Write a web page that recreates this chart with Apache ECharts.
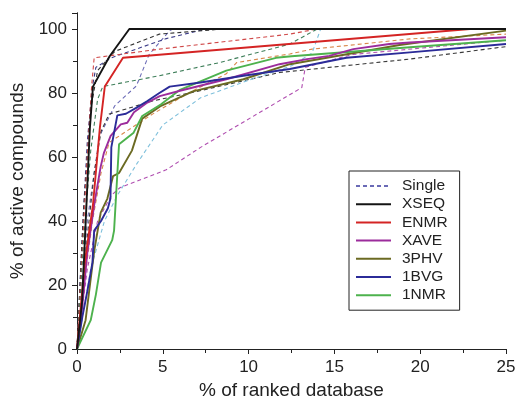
<!DOCTYPE html>
<html>
<head>
<meta charset="utf-8">
<script src="https://cdn.jsdelivr.net/npm/echarts@6/dist/echarts.min.js"></script>
<style>html,body{margin:0;padding:0;background:#fff}#c{width:517px;height:402px}</style>
</head>
<body>
<div id="c"></div>
<script>
// x ticks and y ticks
var xTicks = [0, 5, 10, 15, 20, 25];
var yTicks = [0, 20, 40, 60, 80, 100];
var legendNames = ['Single', 'XSEQ', 'ENMR', 'XAVE', '3PHV', '1BVG', '1NMR'];

// Solid lines: [% of ranked database, % of active compounds]
var XSEQ = [[0,0],[0.3,15],[0.55,45],[0.75,69],[0.93,82],[1.9,91.5],[3.05,100],[25,100]];
var ENMR = [[0,0],[0.45,27],[0.93,45],[1.33,69],[1.62,82],[2.68,91],[22.9,100],[25,100]];
var XAVE = [[0,0],[0.3,13],[0.6,30],[1.0,45],[1.38,57],[1.57,61.3],[1.96,66.6],[2.55,70.2],[2.93,70.7],[3.32,74],[4.1,77],[4.82,79],[6,80.7],[8.7,84.3],[11.8,89],[13.4,90.6],[14.7,91.6],[16.1,93.7],[18.2,95.3],[19.4,95.8],[25,97.4]];
var PHV3 = [[0,0],[0.5,9],[0.8,22],[1.0,30.5],[1.38,42.6],[1.77,47],[2.1,54],[2.45,55],[3.2,62],[3.8,72],[4.9,76],[6.75,80.5],[9.7,84.3],[12.4,89],[18.8,95],[25,99.5]];
var BVG1 = [[0,0],[0.31,10],[0.6,18],[0.9,27],[1.0,37],[1.4,40],[1.8,44],[1.95,47],[2.0,63],[2.35,73],[2.85,73.5],[3.5,75.5],[4.1,77.5],[4.8,80],[5.4,82],[7.2,83.3],[9.7,85.4],[12.4,87.5],[15.7,91],[19.4,92.7],[25,95.3]];
var NMR1 = [[0,0],[0.8,9],[1.1,17],[1.4,27],[2.05,34],[2.16,37],[2.45,64],[3.3,67.6],[3.8,72.8],[4.9,76.5],[6,81],[8.7,87],[11.6,91],[12.5,91.5],[19.4,94.3],[25,96.5]];

// Dashed "Single" lines
var single1 = [[0,0],[0.3,20],[0.6,40],[1.0,55],[1.32,66.6],[2.2,76],[3.46,82.2],[4.2,92],[5.4,99.5],[5.6,100],[25,100]];
var single2 = [[0,0],[0.3,35],[0.6,65],[0.9,82],[1.1,88],[2,91],[5.2,97],[7.5,100],[25,100]];
var single3 = [[0,0],[0.4,45],[0.8,75],[1.2,87],[2.2,93],[4.8,98.4],[8.5,100],[25,100]];
var single4 = [[0,0],[0.3,15],[0.6,35],[1.0,55],[1.4,68],[1.87,73.4],[4.4,77.5],[7,80.5],[11.8,86.4],[19.4,90.6],[25,94.5]];
var single5 = [[0,0],[0.3,30],[0.6,60],[0.85,82],[1.0,91],[4.8,93.7],[12.4,98.4],[14,100],[25,100]];
var single6 = [[0,0],[0.4,20],[0.9,40],[1.4,55],[1.87,64.5],[4.4,73.4],[6.5,80],[8.7,86],[9.3,89.5],[12.4,92.2],[13.7,93.7],[19.4,96.9],[25,98.4]];
var single7 = [[0,0],[0.4,35],[0.8,62],[1.2,78],[1.5,82],[4.8,85.4],[8.3,89.5],[12.4,95.3],[14,100],[25,100]];
var single8 = [[0,0],[0.8,25],[1.6,40],[2.35,48],[3.5,58],[5,70],[7.2,78.5],[10,84],[12.5,88.5],[13.7,92.5],[14.2,100],[25,100]];
var single9 = [[0,0],[0.6,25],[1.2,40],[2.0,48],[2.5,50.4],[5.2,56],[7.2,63],[13.1,81.7],[13.3,88],[16,92],[25,96.5]];

var chart = echarts.init(document.getElementById('c'), null, {renderer: 'canvas'});
var FONT = 'Liberation Sans, Arial, Helvetica, sans-serif';
var TXT = '#222';

function dashed(name, data, color) {
  return {name: name, type: 'line', data: data, symbol: 'none', z: 2,
    lineStyle: {type: [4, 3], width: 1.1, color: color}, itemStyle: {color: color}, silent: true};
}
function solid(name, data, color) {
  return {name: name, type: 'line', data: data, symbol: 'none', z: 3,
    lineStyle: {width: 1.9, color: color}, itemStyle: {color: color}, silent: true};
}

var series = [
  dashed('Single', single1, '#6a6ab6'),
  dashed('s2', single2, '#3b3b88'),
  dashed('s3', single3, '#333333'),
  dashed('s4', single4, '#3a3a3a'),
  dashed('s5', single5, '#d04848'),
  dashed('s6', single6, '#d9874a'),
  dashed('s7', single7, '#3f7f5a'),
  dashed('s8', single8, '#7fc0dc'),
  dashed('s9', single9, '#b04eb0'),
  solid('3PHV', PHV3, '#6b6a22'),
  solid('1NMR', NMR1, '#4db24d'),
  solid('XAVE', XAVE, '#9c2c9c'),
  solid('1BVG', BVG1, '#2b2b98'),
  solid('ENMR', ENMR, '#d42424'),
  solid('XSEQ', XSEQ, '#141414')
];

chart.setOption({
  animation: false,
  backgroundColor: '#fff',
  grid: {left: 77, right: 11, top: 13, bottom: 53, containLabel: false, outerBoundsMode: 'none'},
  legend: {
    data: legendNames, orient: 'vertical', left: 349, top: 171,
    itemWidth: 35, itemHeight: 14, itemGap: 2.2,
    padding: [7, 12, 7, 6],
    borderColor: '#222', borderWidth: 1, backgroundColor: '#fff',
    itemStyle: {opacity: 0},
    textStyle: {fontFamily: FONT, fontSize: 15.5, color: TXT, padding: [0, 0, 0, 6]},
    selectedMode: false
  },
  xAxis: [{
    type: 'value', min: 0, max: 25, interval: 5,
    name: '% of ranked database', nameLocation: 'middle', nameGap: 32,
    nameTextStyle: {fontFamily: FONT, fontSize: 19, color: TXT},
    axisLine: {lineStyle: {color: '#222', width: 1}},
    axisTick: {show: true, inside: false, length: 5, lineStyle: {color: '#222'}},
    minorTick: {show: true, splitNumber: 2, length: 4, lineStyle: {color: '#222'}},
    axisLabel: {fontFamily: FONT, fontSize: 17, color: TXT, margin: 10},
    splitLine: {show: false}
  }, {
    type: 'value', min: 0, max: 25, interval: 5, position: 'top',
    axisLine: {show: true, lineStyle: {color: '#222', width: 1}},
    axisTick: {show: false}, axisLabel: {show: false}, splitLine: {show: false}
  }],
  yAxis: [{
    type: 'value', min: 0, max: 105, interval: 20,
    name: '% of active compounds', nameLocation: 'middle', nameGap: 44,
    nameTextStyle: {fontFamily: FONT, fontSize: 19, color: TXT},
    axisLine: {show: true, lineStyle: {color: '#222', width: 1}},
    axisTick: {show: true, inside: false, length: 5, lineStyle: {color: '#222'}},
    minorTick: {show: true, splitNumber: 2, length: 4, lineStyle: {color: '#222'}},
    axisLabel: {fontFamily: FONT, fontSize: 17, color: TXT, margin: 10, showMaxLabel: false,
      formatter: function (v) { return yTicks.indexOf(v) >= 0 ? String(v) : ''; }},
    splitLine: {show: false}
  }, {
    type: 'value', min: 0, max: 105, interval: 20, position: 'right',
    axisLine: {show: true, lineStyle: {color: '#222', width: 1}},
    axisTick: {show: true, inside: true, length: 5, lineStyle: {color: '#222'}},
    axisLabel: {show: false}, splitLine: {show: false}
  }],
  series: series
});
</script>
</body>
</html>
